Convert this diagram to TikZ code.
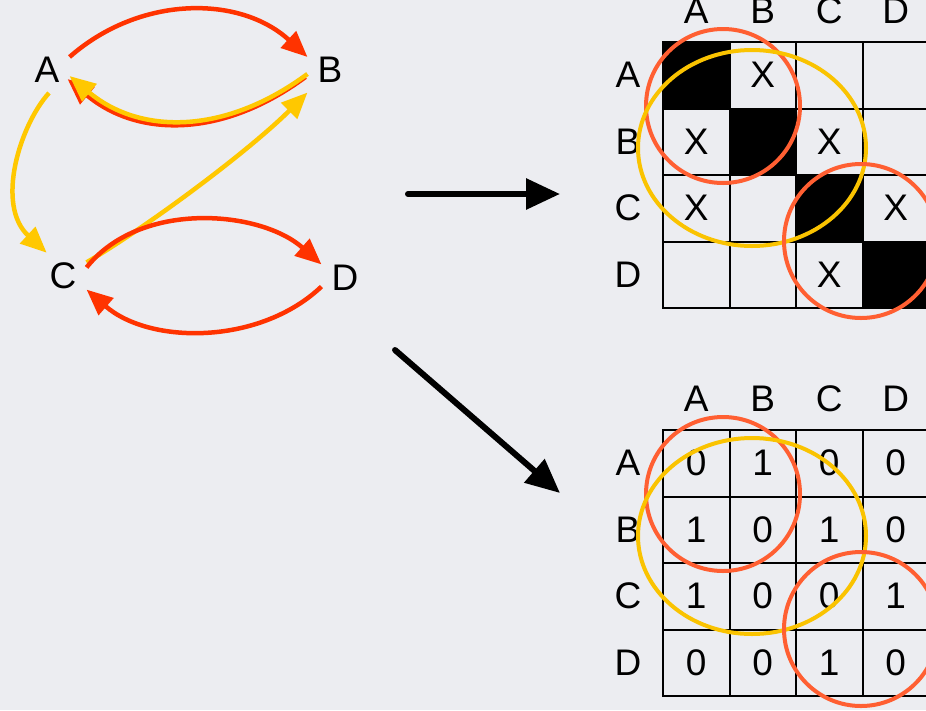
\documentclass[tikz,border=0pt]{standalone}
\usepackage{fontspec}
\setmainfont{Liberation Sans}
\usetikzlibrary{arrows.meta}
\definecolor{slide_bg}{RGB}{236,237,241}
\definecolor{edge_red}{RGB}{255,51,0}
\definecolor{edge_yellow}{RGB}{255,200,0}
\definecolor{ring_red}{RGB}{255,95,50}
\definecolor{ring_yellow}{RGB}{250,195,0}
\begin{document}
\begin{tikzpicture}[x=1pt,y=-1pt,
					vertex/.style={rectangle, inner sep=10pt, font=\fontsize{37}{37}\selectfont},
					lab/.style={inner sep=0pt, font=\fontsize{37}{37}\selectfont},
					cell/.style={draw, line width=2pt, minimum size=66.5pt, inner sep=0pt, font=\fontsize{37}{37}\selectfont},
					redarc/.style={draw=edge_red, line width=4.5pt, -{Triangle[length=26pt,width=22pt]}},
					yelarc/.style={draw=edge_yellow, line width=4.5pt, -{Triangle[length=26pt,width=22pt]}},
					ring/.style={line width=4pt},
					bigarrow/.style={line width=6pt, line cap=round, -{Triangle[length=34pt,width=30pt]}},
				]
				\useasboundingbox (0,0) rectangle (926,710);
				\clip (0,0) rectangle (926,710);
				\fill[slide_bg] (0,0) rectangle (926,710);

				% Graph
				\node[vertex] (gA) at (47,70) {A};
				\node[vertex] (gB) at (330,70) {B};
				\node[vertex] (gC) at (63,276) {C};
				\node[vertex] (gD) at (345,278) {D};

				\draw[redarc] (gA.30) .. controls (140,-5) and (240,-5) .. (gB.150);
				\draw[redarc, transform canvas={xshift=-2pt,yshift=-3pt}] (gB.-170) .. controls (225,135) and (140,135) .. (gA.-15);
				\draw[yelarc] (gB.-170) .. controls (225,135) and (140,135) .. (gA.-15);
				\draw[yelarc] (gA.-85) .. controls (20,125) and (-5,205) .. (gC.125);
				\draw[yelarc] (gC.30) .. controls (150,225) and (250,150) .. (gB.-135);
				\draw[redarc] (gC.20) .. controls (140,200) and (260,210) .. (gD.150);
				\draw[redarc] (gD.-160) .. controls (260,345) and (150,345) .. (gC.-30);

				% Arrows to the matrices
				\coordinate (h1) at (408,194);
				\coordinate (h2) at (560,194);
				\coordinate (d1) at (395,350);
				\coordinate (d2) at (560,493);
				\draw[bigarrow] (h1) -- (h2);
				\draw[bigarrow] (d1) -- (d2);

				% Top matrix
				\foreach \rowname/\marks [count=\r from 0] in {A/{{},X,{},{}},B/{X,{},X,{}},C/{X,{},{},X},D/{{},{},X,{}}} {
					\node[lab] (th\rowname) at (696.25+66.5*\r,11) {\rowname};
					\node[lab] (tr\rowname) at (628,75.25+66.5*\r) {\rowname};
					\foreach \e [count=\c from 0] in \marks
						\node[cell] (t\r\c) at (696.25+66.5*\c,75.25+66.5*\r) {\e};
					\fill (t\r\r.north west) rectangle (t\r\r.south east);
				}

				% Bottom matrix
				\foreach \rowname/\marks [count=\r from 0] in {A/{0,1,0,0},B/{1,0,1,0},C/{1,0,0,1},D/{0,0,1,0}} {
					\node[lab] (bh\rowname) at (696.25+66.5*\r,399) {\rowname};
					\node[lab] (br\rowname) at (628,463.25+66.5*\r) {\rowname};
					\foreach \e [count=\c from 0] in \marks
						\node[cell] (b\r\c) at (696.25+66.5*\c,463.25+66.5*\r) {\e};
				}

				% Rings
				\foreach \dy in {0,388} {
					\draw[ring,ring_red] (723,106+\dy) circle[radius=77];
					\draw[ring,ring_yellow] (752,148+\dy) ellipse[x radius=114,y radius=98];
					\draw[ring,ring_red] (861,241+\dy) circle[radius=77];
				}
\end{tikzpicture}
\end{document}
